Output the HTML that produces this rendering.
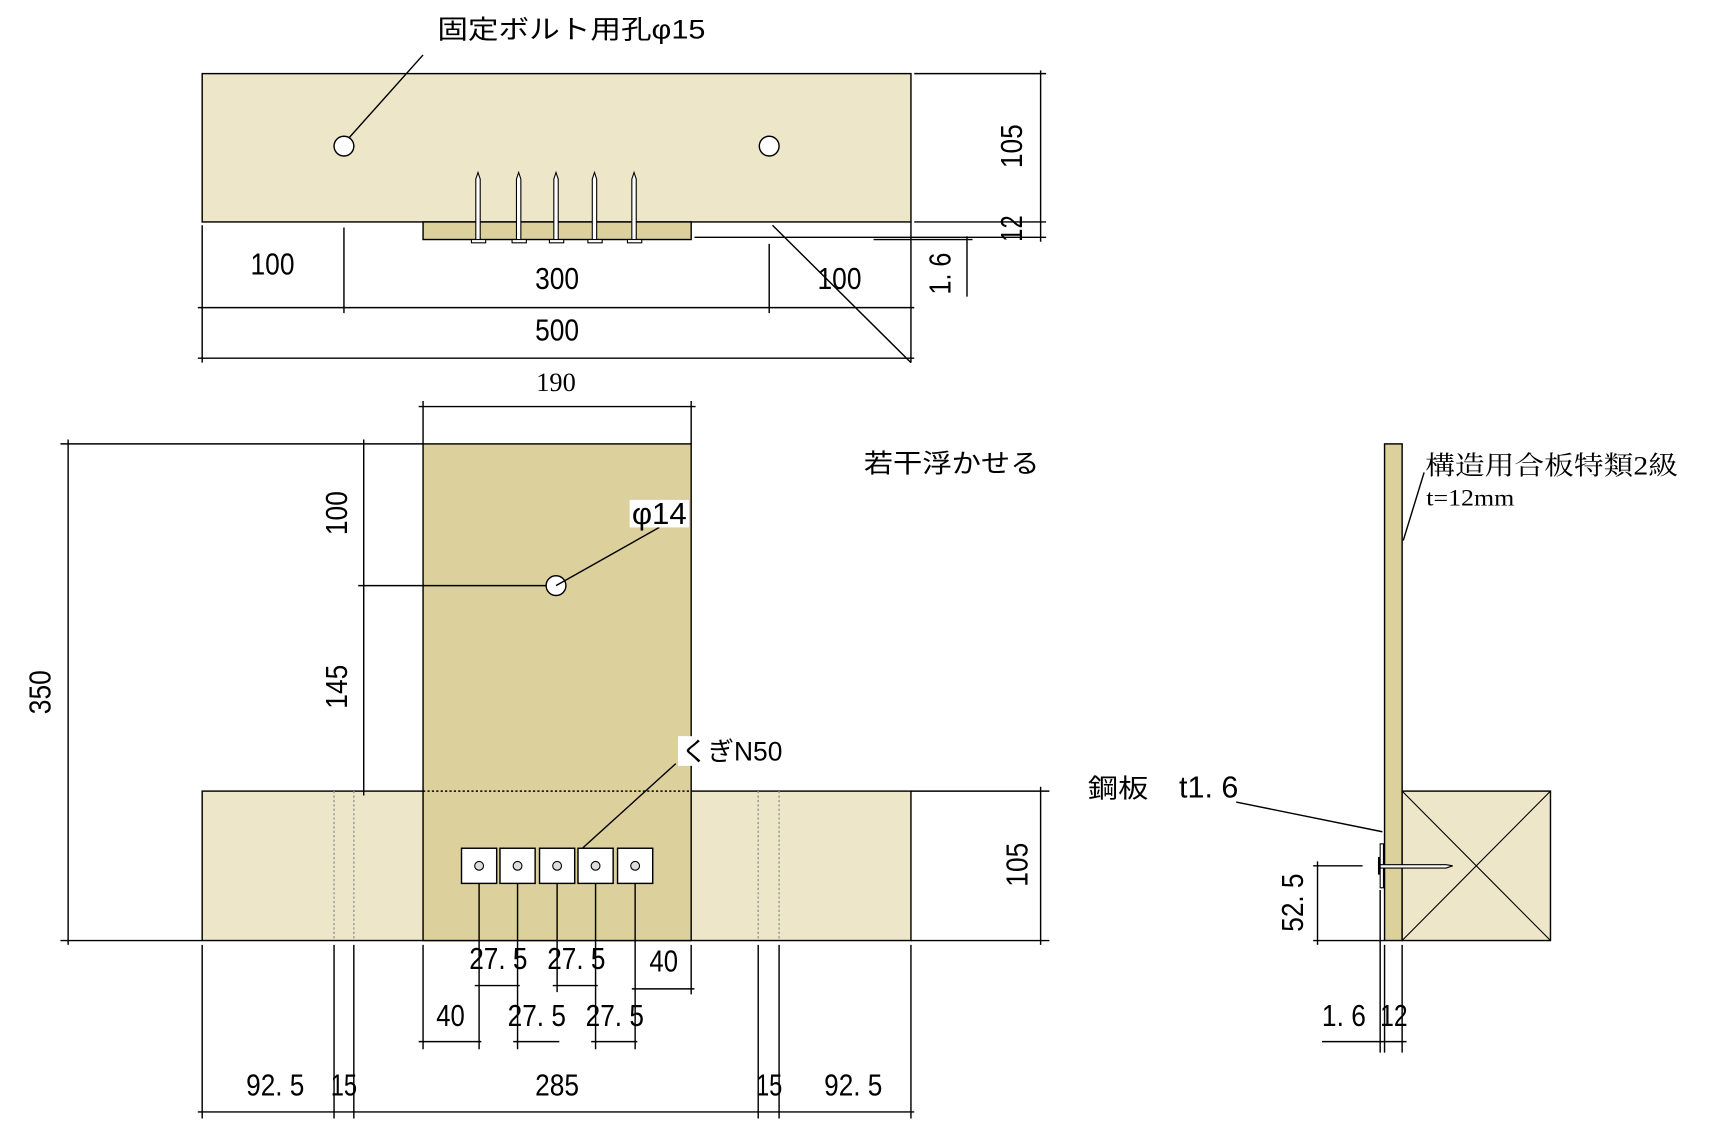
<!DOCTYPE html>
<html><head><meta charset="utf-8"><style>
html,body{margin:0;padding:0;background:#fff;}
svg{display:block}
text{font-family:"Liberation Sans","Noto Sans CJK JP",sans-serif;font-size:28px;fill:#000}
.j{font-family:"Liberation Sans","Noto Sans CJK JP",sans-serif;font-size:24px}
.s{font-family:"Liberation Serif","Noto Serif CJK SC",serif;font-size:24px}
</style></head><body>
<svg width="1723" height="1146" viewBox="0 0 1568 1043" preserveAspectRatio="none" xmlns="http://www.w3.org/2000/svg">
<g stroke="#000" stroke-width="1.3" fill="none">
<rect x="184" y="67" width="645" height="135" fill="#ede6c9"/>
<rect x="385" y="202" width="244" height="16" fill="#dcd19c"/>
<circle cx="313" cy="133" r="9" fill="#fff"/>
<circle cx="700" cy="133" r="9" fill="#fff"/>
<g fill="#fff" stroke-width="1">
<path d="M433 220V163L435 157L437 163V220Z M470 220V163L472 157L474 163V220Z M504 220V163L506 157L508 163V220Z M539 220V163L541 157L543 163V220Z M575 220V163L577 157L579 163V220Z"/>
<rect x="429" y="218" width="13" height="3"/><rect x="466" y="218" width="13" height="3"/><rect x="500" y="218" width="13" height="3"/><rect x="535" y="218" width="13" height="3"/><rect x="571" y="218" width="13" height="3"/>
</g>
<path d="M385 50L318 125"/>
<path d="M184 205V330M313 207V285M700 222V285M829 202V330M180 280H832M180 326H832"/>
<path d="M703 205L829 330"/>
<path d="M832 67H952M832 202H952M632 216H952M947 64V220M795 218H885M880 215V270"/>
<rect x="184" y="720" width="645" height="136" fill="#ede6c9"/>
<rect x="385" y="404" width="244" height="452" fill="#dcd19c"/>
<path d="M385 720H629" stroke-dasharray="2 2"/>
<path d="M304 720V856M322 720V856M690 720V856M709 720V856" stroke="#999" stroke-dasharray="2 2"/>
<path d="M385 404V365M629 404V365M381 370H633"/>
<path d="M55 404H385M55 856H184M829 856H955M62 400V860M331 400V724M326 533H506M829 720H955M947 716V860"/>
<circle cx="506" cy="533" r="9" fill="#fff"/>
<path d="M506 533L600 480"/>
<rect x="573" y="455" width="54" height="25" fill="#fff" stroke="none"/>
<path d="M530 772L615 695"/>
<rect x="617" y="670" width="95" height="27" fill="#fff" stroke="none"/>
<g fill="#fff">
<rect x="420" y="772" width="32" height="32"/><rect x="455" y="772" width="32" height="32"/><rect x="491" y="772" width="32" height="32"/><rect x="526" y="772" width="32" height="32"/><rect x="562" y="772" width="32" height="32"/>
</g>
<g fill="#ddd" stroke-width="1">
<circle cx="436" cy="788" r="4"/><circle cx="471" cy="788" r="4"/><circle cx="507" cy="788" r="4"/><circle cx="542" cy="788" r="4"/><circle cx="578" cy="788" r="4"/>
</g>
<path d="M436 804V955M471 804V955M507 804V903M542 804V955M578 804V955M385 860V955M629 860V905"/>
<path d="M432 897H473M503 897H544M575 900H632M381 948H438M467 948H509M538 948H580"/>
<path d="M184 860V1018M304 860V1018M322 860V1018M690 860V1018M709 860V1018M829 860V1018M180 1012H832"/>
<path d="M1125 730L1258 757"/>
<rect x="1260" y="404" width="16" height="452" fill="#dcd19c"/>
<rect x="1276" y="720" width="135" height="136" fill="#ede6c9"/>
<path d="M1276 720L1411 856M1411 720L1276 856" stroke-width="1"/>
<rect x="1256" y="768" width="3" height="40" fill="#fff" stroke-width="1"/>
<path d="M1256 787H1316L1322 788L1316 790H1256Z" fill="#fff" stroke-width="1"/>
<path d="M1255 780V796" stroke-width="2"/>
<path d="M1277 492L1296 430"/>
<path d="M1195 788H1240M1195 856H1260M1199 784V860M1256 810V958M1260 860V958M1276 860V958M1203 948H1280"/>
</g>
<text class="j" x="398" y="35" textLength="244" lengthAdjust="spacingAndGlyphs">固定ボルト用孔φ15</text>
<text x="228" y="250" textLength="40" lengthAdjust="spacingAndGlyphs">100</text>
<text x="487" y="263" textLength="40" lengthAdjust="spacingAndGlyphs">300</text>
<text x="744" y="263" textLength="40" lengthAdjust="spacingAndGlyphs">100</text>
<text x="487" y="310" textLength="40" lengthAdjust="spacingAndGlyphs">500</text>
<text transform="translate(930,153) rotate(-90)" textLength="40" lengthAdjust="spacingAndGlyphs">105</text>
<text transform="translate(930,220) rotate(-90)" textLength="24" lengthAdjust="spacingAndGlyphs">12</text>
<text transform="translate(865,268) rotate(-90)" textLength="38" lengthAdjust="spacingAndGlyphs">1. 6</text>
<text class="s" x="506" y="356" text-anchor="middle">190</text>
<text class="j" x="786" y="430" textLength="160" lengthAdjust="spacingAndGlyphs">若干浮かせる</text>
<text x="575" y="477" textLength="50" lengthAdjust="spacingAndGlyphs">φ14</text>
<text class="j" x="620" y="692" textLength="92" lengthAdjust="spacingAndGlyphs">くぎN50</text>
<text transform="translate(46,650) rotate(-90)" textLength="40" lengthAdjust="spacingAndGlyphs">350</text>
<text transform="translate(316,487) rotate(-90)" textLength="40" lengthAdjust="spacingAndGlyphs">100</text>
<text transform="translate(316,645) rotate(-90)" textLength="40" lengthAdjust="spacingAndGlyphs">145</text>
<text transform="translate(935,807) rotate(-90)" textLength="40" lengthAdjust="spacingAndGlyphs">105</text>
<text x="427" y="882" textLength="53" lengthAdjust="spacingAndGlyphs">27. 5</text>
<text x="498" y="882" textLength="53" lengthAdjust="spacingAndGlyphs">27. 5</text>
<text x="591" y="884" textLength="26" lengthAdjust="spacingAndGlyphs">40</text>
<text x="397" y="934" textLength="26" lengthAdjust="spacingAndGlyphs">40</text>
<text x="462" y="934" textLength="53" lengthAdjust="spacingAndGlyphs">27. 5</text>
<text x="533" y="934" textLength="53" lengthAdjust="spacingAndGlyphs">27. 5</text>
<text x="224" y="997" textLength="53" lengthAdjust="spacingAndGlyphs">92. 5</text>
<text x="301" y="997" textLength="24" lengthAdjust="spacingAndGlyphs">15</text>
<text x="487" y="997" textLength="40" lengthAdjust="spacingAndGlyphs">285</text>
<text x="688" y="997" textLength="24" lengthAdjust="spacingAndGlyphs">15</text>
<text x="750" y="997" textLength="53" lengthAdjust="spacingAndGlyphs">92. 5</text>
<text class="j" x="990" y="726" textLength="55" lengthAdjust="spacingAndGlyphs">鋼板</text>
<text x="1073" y="726" textLength="54" lengthAdjust="spacingAndGlyphs">t1. 6</text>
<text class="s" x="1297" y="432" textLength="230" lengthAdjust="spacingAndGlyphs">構造用合板特類2級</text>
<text class="s" x="1298" y="460" style="font-size:21px" textLength="80" lengthAdjust="spacingAndGlyphs">t=12mm</text>
<text transform="translate(1186,848) rotate(-90)" textLength="53" lengthAdjust="spacingAndGlyphs">52. 5</text>
<text x="1203" y="934" textLength="40" lengthAdjust="spacingAndGlyphs">1. 6</text>
<text x="1256" y="934" textLength="25" lengthAdjust="spacingAndGlyphs">12</text>
</svg>
</body></html>
